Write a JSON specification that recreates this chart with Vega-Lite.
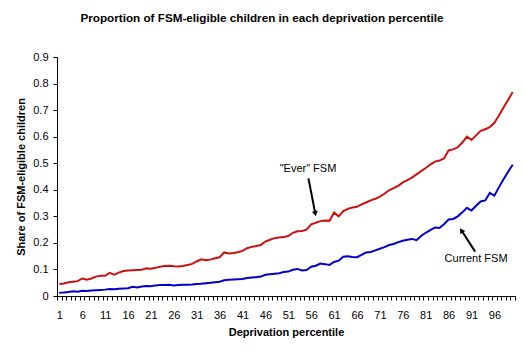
{
  "$schema": "https://vega.github.io/schema/vega-lite/v6.json",
  "width": 458,
  "height": 239,
  "autosize": {"type": "none"},
  "padding": {"left": 57, "top": 57, "right": 10, "bottom": 60},
  "background": "white",
  "title": {
    "text": "Proportion of FSM-eligible children in each deprivation percentile",
    "font": "Liberation Sans",
    "fontSize": 11.7,
    "fontWeight": "bold",
    "color": "black",
    "anchor": "middle",
    "dx": -24,
    "offset": 26
  },
  "config": {
    "view": {"stroke": null},
    "axis": {
      "grid": false,
      "domainColor": "black",
      "tickColor": "black",
      "labelColor": "black",
      "titleColor": "black",
      "labelFont": "Liberation Sans",
      "titleFont": "Liberation Sans",
      "labelFontSize": 11,
      "titleFontSize": 11,
      "titleFontWeight": "bold",
      "tickSize": 4,
      "domainWidth": 1,
      "tickWidth": 1
    },
    "text": {"font": "Liberation Sans", "fontSize": 11}
  },
  "data": {
    "values": [
      {"p":1,"ever":0.045,"current":0.012},{"p":2,"ever":0.047,"current":0.013},{"p":3,"ever":0.052,"current":0.015},{"p":4,"ever":0.054,"current":0.018},{"p":5,"ever":0.056,"current":0.016},
      {"p":6,"ever":0.066,"current":0.020},{"p":7,"ever":0.061,"current":0.019},{"p":8,"ever":0.066,"current":0.021},{"p":9,"ever":0.073,"current":0.022},{"p":10,"ever":0.076,"current":0.023},
      {"p":11,"ever":0.076,"current":0.024},{"p":12,"ever":0.087,"current":0.026},{"p":13,"ever":0.080,"current":0.025},{"p":14,"ever":0.088,"current":0.027},{"p":15,"ever":0.094,"current":0.028},
      {"p":16,"ever":0.096,"current":0.029},{"p":17,"ever":0.097,"current":0.035},{"p":18,"ever":0.098,"current":0.032},{"p":19,"ever":0.099,"current":0.036},{"p":20,"ever":0.104,"current":0.038},
      {"p":21,"ever":0.103,"current":0.037},{"p":22,"ever":0.106,"current":0.040},{"p":23,"ever":0.110,"current":0.041},{"p":24,"ever":0.113,"current":0.041},{"p":25,"ever":0.114,"current":0.042},
      {"p":26,"ever":0.112,"current":0.040},{"p":27,"ever":0.111,"current":0.041},{"p":28,"ever":0.113,"current":0.042},{"p":29,"ever":0.117,"current":0.042},{"p":30,"ever":0.121,"current":0.043},
      {"p":31,"ever":0.130,"current":0.045},{"p":32,"ever":0.138,"current":0.046},{"p":33,"ever":0.135,"current":0.048},{"p":34,"ever":0.137,"current":0.050},{"p":35,"ever":0.142,"current":0.052},
      {"p":36,"ever":0.146,"current":0.054},{"p":37,"ever":0.164,"current":0.059},{"p":38,"ever":0.160,"current":0.061},{"p":39,"ever":0.162,"current":0.062},{"p":40,"ever":0.165,"current":0.063},
      {"p":41,"ever":0.170,"current":0.064},{"p":42,"ever":0.180,"current":0.068},{"p":43,"ever":0.185,"current":0.070},{"p":44,"ever":0.188,"current":0.071},{"p":45,"ever":0.192,"current":0.073},
      {"p":46,"ever":0.205,"current":0.080},{"p":47,"ever":0.212,"current":0.082},{"p":48,"ever":0.218,"current":0.084},{"p":49,"ever":0.220,"current":0.086},{"p":50,"ever":0.222,"current":0.090},
      {"p":51,"ever":0.226,"current":0.092},{"p":52,"ever":0.238,"current":0.099},{"p":53,"ever":0.244,"current":0.102},{"p":54,"ever":0.245,"current":0.096},{"p":55,"ever":0.250,"current":0.098},
      {"p":56,"ever":0.270,"current":0.110},{"p":57,"ever":0.276,"current":0.114},{"p":58,"ever":0.282,"current":0.122},{"p":59,"ever":0.284,"current":0.120},{"p":60,"ever":0.283,"current":0.117},
      {"p":61,"ever":0.314,"current":0.128},{"p":62,"ever":0.300,"current":0.133},{"p":63,"ever":0.320,"current":0.148},{"p":64,"ever":0.328,"current":0.150},{"p":65,"ever":0.333,"current":0.147},
      {"p":66,"ever":0.336,"current":0.146},{"p":67,"ever":0.345,"current":0.155},{"p":68,"ever":0.352,"current":0.164},{"p":69,"ever":0.360,"current":0.166},{"p":70,"ever":0.366,"current":0.172},
      {"p":71,"ever":0.374,"current":0.178},{"p":72,"ever":0.385,"current":0.184},{"p":73,"ever":0.398,"current":0.192},{"p":74,"ever":0.406,"current":0.196},{"p":75,"ever":0.415,"current":0.203},
      {"p":76,"ever":0.428,"current":0.208},{"p":77,"ever":0.436,"current":0.212},{"p":78,"ever":0.446,"current":0.215},{"p":79,"ever":0.458,"current":0.210},{"p":80,"ever":0.470,"current":0.226},
      {"p":81,"ever":0.482,"current":0.238},{"p":82,"ever":0.495,"current":0.248},{"p":83,"ever":0.506,"current":0.258},{"p":84,"ever":0.510,"current":0.256},{"p":85,"ever":0.518,"current":0.270},
      {"p":86,"ever":0.548,"current":0.288},{"p":87,"ever":0.552,"current":0.290},{"p":88,"ever":0.560,"current":0.300},{"p":89,"ever":0.578,"current":0.315},{"p":90,"ever":0.600,"current":0.332},
      {"p":91,"ever":0.588,"current":0.322},{"p":92,"ever":0.605,"current":0.340},{"p":93,"ever":0.622,"current":0.356},{"p":94,"ever":0.628,"current":0.360},{"p":95,"ever":0.636,"current":0.388},
      {"p":96,"ever":0.652,"current":0.378},{"p":97,"ever":0.680,"current":0.410},{"p":98,"ever":0.710,"current":0.440},{"p":99,"ever":0.738,"current":0.468},{"p":100,"ever":0.768,"current":0.494}
    ]
  },
  "layer": [
    {
      "mark": {"type": "line", "color": "#CC1010", "strokeWidth": 2, "interpolate": "linear"},
      "encoding": {
        "x": {
          "field": "p", "type": "quantitative",
          "scale": {"domain": [0.5, 100.5], "nice": false, "zero": false},
          "axis": {
            "title": "Deprivation percentile",
            "values": [0.5,1.5,2.5,3.5,4.5,5.5,6.5,7.5,8.5,9.5,10.5,11.5,12.5,13.5,14.5,15.5,16.5,17.5,18.5,19.5,20.5,21.5,22.5,23.5,24.5,25.5,26.5,27.5,28.5,29.5,30.5,31.5,32.5,33.5,34.5,35.5,36.5,37.5,38.5,39.5,40.5,41.5,42.5,43.5,44.5,45.5,46.5,47.5,48.5,49.5,50.5,51.5,52.5,53.5,54.5,55.5,56.5,57.5,58.5,59.5,60.5,61.5,62.5,63.5,64.5,65.5,66.5,67.5,68.5,69.5,70.5,71.5,72.5,73.5,74.5,75.5,76.5,77.5,78.5,79.5,80.5,81.5,82.5,83.5,84.5,85.5,86.5,87.5,88.5,89.5,90.5,91.5,92.5,93.5,94.5,95.5,96.5,97.5,98.5,99.5,100.5],
            "tickCount": 1000,
            "labelExpr": "((datum.value + 0.5 - 1) % 5 == 0 && datum.value < 99) ? format(datum.value + 0.5, 'd') : ''",
            "labelOffset": 2.3,
            "labelOverlap": false,
            "labelFlush": false,
            "labelBound": false,
            "labelPadding": 9,
            "titlePadding": 6
          }
        },
        "y": {
          "field": "ever", "type": "quantitative",
          "scale": {"domain": [0, 0.9], "nice": false},
          "axis": {
            "title": "Share of FSM-eligible children",
            "values": [0, 0.1, 0.2, 0.3, 0.4, 0.5, 0.6, 0.7, 0.8, 0.9],
            "tickCount": 100,
            "labelOverlap": false,
            "format": ".1~f",
            "labelPadding": 5,
            "titlePadding": 6
          }
        }
      }
    },
    {
      "mark": {"type": "line", "color": "#0000C8", "strokeWidth": 2, "interpolate": "linear"},
      "encoding": {
        "x": {"field": "p", "type": "quantitative"},
        "y": {"field": "current", "type": "quantitative"}
      }
    },
    {
      "data": {"values": [
        {"label": "\"Ever\" FSM", "x": 55.3, "y": 0.478},
        {"label": "Current FSM", "x": 92.0, "y": 0.139}
      ]},
      "mark": {"type": "text", "color": "black", "fontSize": 11, "align": "center", "baseline": "middle"},
      "encoding": {
        "x": {"field": "x", "type": "quantitative"},
        "y": {"field": "y", "type": "quantitative"},
        "text": {"field": "label"}
      }
    },
    {
      "data": {"values": [
        {"x": 55.4, "y": 0.443, "x2": 56.9, "y2": 0.31},
        {"x": 91.8, "y": 0.167, "x2": 88.9, "y2": 0.245}
      ]},
      "mark": {"type": "rule", "color": "black", "strokeWidth": 2},
      "encoding": {
        "x": {"field": "x", "type": "quantitative"},
        "y": {"field": "y", "type": "quantitative"},
        "x2": {"field": "x2"},
        "y2": {"field": "y2"}
      }
    },
    {
      "data": {"values": [
        {"x": 56.9, "y": 0.31, "a": 169},
        {"x": 88.8, "y": 0.247, "a": 327}
      ]},
      "mark": {"type": "point", "shape": "triangle-up", "filled": true, "color": "black", "size": 35, "opacity": 1},
      "encoding": {
        "x": {"field": "x", "type": "quantitative"},
        "y": {"field": "y", "type": "quantitative"},
        "angle": {"field": "a", "type": "quantitative", "scale": null}
      }
    }
  ]
}
